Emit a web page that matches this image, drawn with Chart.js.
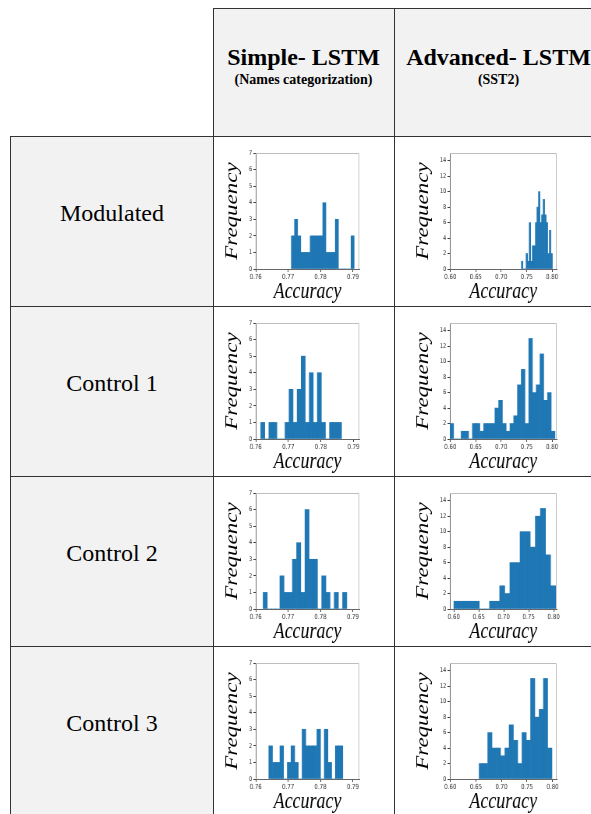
<!DOCTYPE html>
<html>
<head>
<meta charset="utf-8">
<script src="https://cdn.jsdelivr.net/npm/chart.js@4.4.0/dist/chart.umd.min.js"></script>
<style>
  body { margin: 0; background: #fff; width: 591px; height: 814px; overflow: hidden; position: relative; }
  .cell { position: absolute; box-sizing: border-box; border: 1px solid #333; }
  .grey { background: #f2f2f2; }
  .txt { position: absolute; text-align: center; font-family: "Liberation Serif", "Times New Roman", serif; color: #000; white-space: nowrap; }
  .title { font-weight: bold; font-size: 24px; line-height: 28px; }
  .sub { font-weight: bold; font-size: 14px; line-height: 16px; }
  .rowname { font-size: 24px; line-height: 28px; }
</style>
</head>
<body>
<script>
// table text
const columnTitles = ["Simple- LSTM", "Advanced- LSTM"];
const columnSubtitles = ["(Names categorization)", "(SST2)"];
const rowNames = ["Modulated", "Control 1", "Control 2", "Control 3"];

// axis ticks
const simpleXTicks = [0.76, 0.77, 0.78, 0.79];
const advancedXTicks = [0.60, 0.65, 0.70, 0.75, 0.80];
const simpleYTicks = [0, 1, 2, 3, 4, 5, 6, 7];
const advancedYTicks = [0, 2, 4, 6, 8, 10, 12, 14];

// histogram counts (bin by bin), bins = [first edge, bin width], range = x axis limits
const modulatedSimple = [2, 3, 2, 1, 1, 1, 2, 2, 2, 2, 4, 1, 1, 1, 3, 0, 0, 0, 0, 2];
const modulatedSimpleBins = [0.7710, 0.00097];
const modulatedSimpleRange = [0.76, 0.792];

const control1Simple = [1, 0, 1, 1, 0, 0, 1, 3, 1, 3, 5, 1, 4, 1, 4, 1, 0, 1, 1, 1];
const control1SimpleBins = [0.76154, 0.001241];
const control1SimpleRange = [0.76, 0.7918];

const control2Simple = [1, 0, 0, 0, 2, 1, 1, 3, 4, 1, 6, 3, 3, 0, 2, 1, 0, 1, 0, 1];
const control2SimpleBins = [0.76228, 0.0012925];
const control2SimpleRange = [0.76, 0.792];

const control3Simple = [2, 1, 1, 2, 0, 1, 2, 1, 0, 3, 2, 2, 2, 3, 0, 3, 1, 0, 2, 2];
const control3SimpleBins = [0.76403, 0.001143];
const control3SimpleRange = [0.76, 0.792];

const modulatedAdvanced = [1, 0, 0, 2, 1, 6, 1, 3, 3, 6, 8, 10, 6, 7, 9, 7, 6, 2, 5, 2];
const modulatedAdvancedBins = [0.7396, 0.00305];
const modulatedAdvancedRange = [0.599, 0.809];

const control1Advanced = [2, 0, 0, 1, 1, 0, 2, 2, 1, 2, 2, 2, 4, 5, 2, 1, 2, 3, 7, 9, 2, 13, 6, 7, 11, 5, 6, 1];
const control1AdvancedBins = [0.599, 0.00738];
const control1AdvancedRange = [0.599, 0.809];

const control2Advanced = [1, 1, 1, 1, 1, 0, 0, 1, 1, 3, 2, 6, 6, 10, 10, 8, 12, 13, 7, 3];
const control2AdvancedBins = [0.600, 0.0102];
const control2AdvancedRange = [0.592, 0.806];

const control3Advanced = [2, 2, 6, 4, 4, 3, 4, 7, 5, 2, 6, 5, 13, 8, 9, 13, 4];
const control3AdvancedBins = [0.6563, 0.00838];
const control3AdvancedRange = [0.599, 0.808];

const charts = [
  { row: 0, col: 0, counts: modulatedSimple, bins: modulatedSimpleBins, range: modulatedSimpleRange },
  { row: 1, col: 0, counts: control1Simple, bins: control1SimpleBins, range: control1SimpleRange },
  { row: 2, col: 0, counts: control2Simple, bins: control2SimpleBins, range: control2SimpleRange },
  { row: 3, col: 0, counts: control3Simple, bins: control3SimpleBins, range: control3SimpleRange },
  { row: 0, col: 1, counts: modulatedAdvanced, bins: modulatedAdvancedBins, range: modulatedAdvancedRange },
  { row: 1, col: 1, counts: control1Advanced, bins: control1AdvancedBins, range: control1AdvancedRange },
  { row: 2, col: 1, counts: control2Advanced, bins: control2AdvancedBins, range: control2AdvancedRange },
  { row: 3, col: 1, counts: control3Advanced, bins: control3AdvancedBins, range: control3AdvancedRange }
];

// ---- table ----
function addDiv(cls, left, top, width, height, text) {
  const d = document.createElement("div");
  d.className = cls;
  d.style.left = left + "px";
  d.style.top = top + "px";
  d.style.width = width + "px";
  if (height) d.style.height = height + "px";
  if (text) d.textContent = text;
  document.body.appendChild(d);
  return d;
}

const colLeft = [213, 394];
const colWidth = [182, 210];
const rowTop = r => 136 + r * 170;

for (let c = 0; c < 2; c++) {
  addDiv("cell grey", colLeft[c], 8, colWidth[c], 129);
  addDiv("txt title", colLeft[c], 43, colWidth[c] - 1, 0, columnTitles[c]);
  addDiv("txt sub", colLeft[c], 72, colWidth[c] - 1, 0, columnSubtitles[c]);
}
for (let r = 0; r < rowNames.length; r++) {
  addDiv("cell grey", 10, rowTop(r), 204, 171);
  addDiv("cell", colLeft[0], rowTop(r), colWidth[0], 171);
  addDiv("cell", colLeft[1], rowTop(r), colWidth[1], 171);
  addDiv("txt rowname", 10, rowTop(r) + 63, 204, 0, rowNames[r]);
}

// ---- histograms ----
const framePlugin = {
  id: "frame",
  afterDraw(chart) {
    const a = chart.chartArea;
    const ctx = chart.ctx;
    ctx.save();
    ctx.strokeStyle = "#bdbdbd";
    ctx.lineWidth = 1;
    ctx.beginPath();
    ctx.moveTo(a.left, a.top + 0.5);
    ctx.lineTo(a.right - 0.5, a.top + 0.5);
    ctx.lineTo(a.right - 0.5, a.bottom);
    ctx.stroke();
    ctx.restore();
  }
};

charts.forEach(function(def) {
  const simple = def.col === 0;
  const pageW = simple ? 176 : 195;
  const logicalW = simple ? 226 : 250;
  const xTicks = simple ? simpleXTicks : advancedXTicks;
  const yTicks = simple ? simpleYTicks : advancedYTicks;

  const canvas = document.createElement("canvas");
  canvas.width = logicalW;
  canvas.height = 169;
  canvas.style.position = "absolute";
  canvas.style.left = (simple ? 216 : 396) + "px";
  canvas.style.top = (rowTop(def.row) + 1) + "px";
  canvas.style.width = pageW + "px";
  canvas.style.height = "169px";
  document.body.appendChild(canvas);

  const points = def.counts.map(function(c, i) {
    return { x: def.bins[0] + (i + 0.5) * def.bins[1], y: c };
  });

  new Chart(canvas, {
    type: "bar",
    data: {
      datasets: [{
        data: points,
        backgroundColor: "#1f77b4",
        borderWidth: 0,
        barPercentage: 1,
        categoryPercentage: 1
      }]
    },
    options: {
      responsive: false,
      animation: false,
      devicePixelRatio: 1,
      layout: { padding: { top: 16, right: simple ? 42 : 44, bottom: 0, left: 0 } },
      plugins: { legend: { display: false }, tooltip: { enabled: false } },
      scales: {
        x: {
          type: "linear",
          offset: false,
          min: def.range[0],
          max: def.range[1],
          afterBuildTicks: function(s) { s.ticks = xTicks.map(v => ({ value: v })); },
          afterFit: function(s) { s.height = 37; },
          grid: { display: true, offset: false, drawOnChartArea: false, drawTicks: true, tickLength: 3, color: "#444" },
          border: { display: true, color: "#666" },
          ticks: {
            autoSkip: false, maxRotation: 0, padding: 1, color: "#333",
            font: { family: "DejaVu Sans", size: 7 },
            callback: v => v.toFixed(2)
          },
          title: {
            display: true, text: "Accuracy", color: "#000",
            font: { family: "Liberation Serif", style: "italic", size: 23 },
            padding: { top: 0, bottom: 0 }
          }
        },
        y: {
          min: 0,
          max: simple ? 7 : 15,
          afterBuildTicks: function(s) { s.ticks = yTicks.map(v => ({ value: v })); },
          afterFit: function(s) { s.width = simple ? 51 : 69; },
          grid: { display: true, drawOnChartArea: false, drawTicks: true, tickLength: 3, color: "#444" },
          border: { display: true, color: "#666" },
          ticks: { padding: 1.5, color: "#333", font: { family: "DejaVu Sans", size: 6.5 } },
          title: {
            display: true, text: "Frequency", color: "#000",
            font: { family: "Liberation Serif", style: "italic", size: 23 },
            padding: { top: simple ? 7 : 21, bottom: 0 }
          }
        }
      }
    },
    plugins: [framePlugin]
  });
});
</script>
</body>
</html>
